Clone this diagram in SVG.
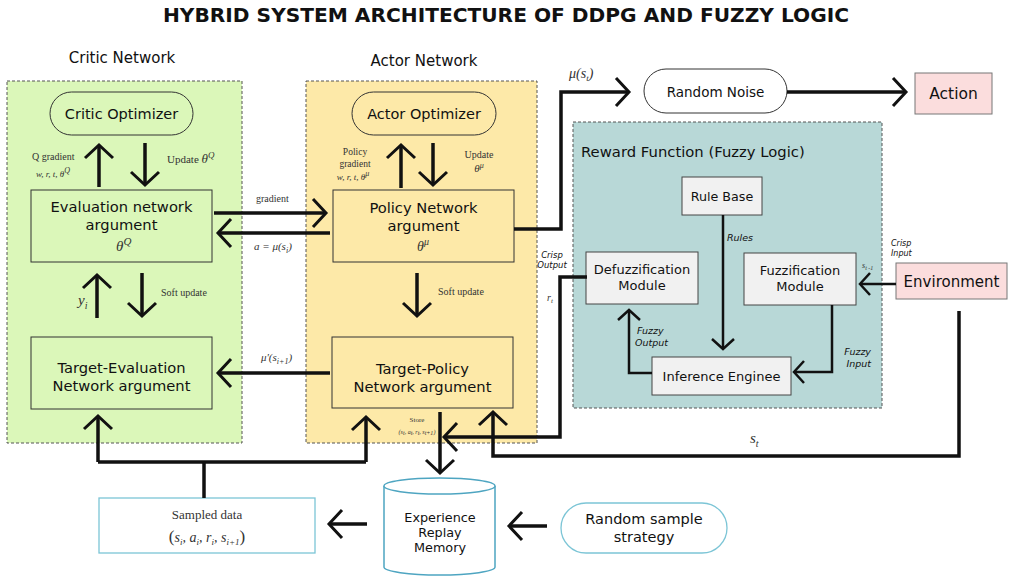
<svg xmlns="http://www.w3.org/2000/svg" width="1012" height="579" viewBox="0 0 1012 579">
<style>
.t{font-family:"DejaVu Sans","Open Sans",sans-serif;fill:#111;text-anchor:middle}
.m{font-family:"Liberation Serif",serif;fill:#333}
.mi{font-family:"Liberation Serif",serif;font-style:italic;fill:#333}
.it{font-family:"DejaVu Sans","Open Sans",sans-serif;font-style:italic;fill:#111}
.panel{stroke:#555;stroke-width:1;stroke-dasharray:3,2}
.box{stroke:#333;stroke-width:1}
.fz{fill:#f1f1f1;stroke:#444;stroke-width:1}
.pink{fill:#fbdddd;stroke:#777;stroke-width:1}
.blue{fill:#fff;stroke:#7cc5d6;stroke-width:1.3}
.c{fill:none;stroke:#111;stroke-width:3.5}
.cs{fill:none;stroke:#111;stroke-width:2.5}
</style>
<defs>
<marker id="ah" markerUnits="userSpaceOnUse" viewBox="-16 -16 20 32" markerWidth="20" markerHeight="32" refX="0" refY="0" orient="auto" overflow="visible"><path d="M-13,-14 L0,0 L-13,14" fill="none" stroke="#111" stroke-width="3"/></marker>
<marker id="as" markerUnits="userSpaceOnUse" viewBox="-12 -12 14 24" markerWidth="14" markerHeight="24" refX="0" refY="0" orient="auto" overflow="visible"><path d="M-10,-11 L0,0 L-10,11" fill="none" stroke="#111" stroke-width="2.5"/></marker>
</defs>
<rect width="1012" height="579" fill="#fff"/>
<text x="506" y="22" class="t" font-size="20" font-weight="bold" textLength="686" lengthAdjust="spacingAndGlyphs">HYBRID SYSTEM ARCHITECTURE OF DDPG AND FUZZY LOGIC</text>

<g id="critic-network">
<rect x="7" y="81" width="235" height="362" fill="#dbf7b9" class="panel"/>
<text x="122" y="63" class="t" font-size="15">Critic Network</text>
</g>
<g id="actor-network">
<rect x="306" y="81" width="231" height="362" fill="#fde9a8" class="panel"/>
<text x="424" y="66" class="t" font-size="15">Actor Network</text>
</g>
<g id="reward-function">
<rect x="573" y="122" width="309" height="286" fill="#b8d8d7" class="panel"/>
<text x="581" y="157" class="t" font-size="14.8" style="text-anchor:start">Reward Function (Fuzzy Logic)</text>
</g>

<g id="critic-optimizer">
<rect x="50" y="92" width="143" height="43" rx="21.5" fill="#dbf7b9" stroke="#333"/>
<text x="121.5" y="119" class="t" font-size="14.5">Critic Optimizer</text>
</g>
<g id="evaluation-network">
<rect x="31" y="190" width="181" height="72" fill="#dbf7b9" class="box"/>
<text x="121.5" y="212" class="t" font-size="14.7">Evaluation network</text>
<text x="121.5" y="229.5" class="t" font-size="14.7">argument</text>
<text x="116" y="251" class="mi" font-size="15">θ<tspan font-size="11" dy="-6">Q</tspan></text>
</g>
<g id="target-evaluation">
<rect x="31" y="337" width="181" height="72" fill="#dbf7b9" class="box"/>
<text x="121.5" y="373" class="t" font-size="14.7">Target-Evaluation</text>
<text x="121.5" y="390.5" class="t" font-size="14.7">Network argument</text>
</g>

<g id="actor-optimizer">
<rect x="352" y="92" width="144" height="43" rx="21.5" fill="#fde9a8" stroke="#333"/>
<text x="424" y="119" class="t" font-size="14.5">Actor Optimizer</text>
</g>
<g id="policy-network">
<rect x="333" y="190" width="181" height="72" fill="#fde9a8" class="box"/>
<text x="423.5" y="213" class="t" font-size="14.7">Policy Network</text>
<text x="423.5" y="230.5" class="t" font-size="14.7">argument</text>
<text x="417" y="251" class="mi" font-size="14">θ<tspan font-size="10" dy="-6">μ</tspan></text>
</g>
<g id="target-policy">
<rect x="332" y="337" width="181" height="71" fill="#fde9a8" class="box"/>
<text x="422.5" y="374" class="t" font-size="14.7">Target-Policy</text>
<text x="422.5" y="391.5" class="t" font-size="14.7">Network argument</text>
</g>

<g id="random-noise">
<rect x="644" y="69" width="143" height="44" rx="22" fill="#fff" stroke="#333"/>
<text x="715.5" y="96.5" class="t" font-size="13.5">Random Noise</text>
</g>
<g id="action">
<rect x="915" y="73" width="77" height="41" class="pink"/>
<text x="953.5" y="99" class="t" font-size="15.5">Action</text>
</g>
<g id="rule-base">
<rect x="682" y="177" width="80" height="38" class="fz"/>
<text x="722" y="200.5" class="t" font-size="12.7">Rule Base</text>
</g>
<g id="defuzzification">
<rect x="586" y="252" width="112" height="52" class="fz"/>
<text x="642" y="274" class="t" font-size="13">Defuzzification</text>
<text x="642" y="289.5" class="t" font-size="13">Module</text>
</g>
<g id="fuzzification">
<rect x="744" y="253" width="112" height="52" class="fz"/>
<text x="800" y="275" class="t" font-size="13">Fuzzification</text>
<text x="800" y="290.5" class="t" font-size="13">Module</text>
</g>
<g id="inference-engine">
<rect x="652" y="357" width="139" height="38" class="fz"/>
<text x="721.5" y="380.5" class="t" font-size="13">Inference Enginee</text>
</g>
<g id="environment">
<rect x="896" y="263" width="111" height="36" class="pink"/>
<text x="951.5" y="286.5" class="t" font-size="15">Environment</text>
</g>
<g id="sampled-data">
<rect x="99" y="498" width="216" height="55" class="blue"/>
<text x="207" y="519" class="m" font-size="13" text-anchor="middle">Sampled data</text>
<text x="207" y="542" class="mi" font-size="14" text-anchor="middle"><tspan font-style="normal" font-size="17">(</tspan>s<tspan font-size="9" dy="3">i</tspan><tspan dy="-3">, a</tspan><tspan font-size="9" dy="3">i</tspan><tspan dy="-3">, r</tspan><tspan font-size="9" dy="3">i</tspan><tspan dy="-3">, s</tspan><tspan font-size="9" dy="3">i+1</tspan><tspan dy="-3" font-style="normal" font-size="17">)</tspan></text>
</g>
<g id="experience-replay">
<path d="M384,486 V567 A55.5,8 0 0 0 495,567 V486" fill="#fff" stroke="#4ea5c1" stroke-width="1.5"/>
<ellipse cx="439.5" cy="486" rx="55.5" ry="8" fill="#fff" stroke="#4ea5c1" stroke-width="1.5"/>
<text x="440" y="522" class="t" font-size="12.8">Experience</text>
<text x="440" y="537" class="t" font-size="12.8">Replay</text>
<text x="440" y="552" class="t" font-size="12.8">Memory</text>
</g>
<g id="random-sample-strategy">
<rect x="561" y="503" width="166" height="50" rx="25" class="blue"/>
<text x="644" y="524" class="t" font-size="14.5">Random sample</text>
<text x="644" y="542" class="t" font-size="14.5">strategy</text>
</g>

<g id="connectors">
<path class="c" d="M99,187 V145" marker-end="url(#ah)"/>
<path class="c" d="M145,143 V185" marker-end="url(#ah)"/>
<path class="c" d="M97,318 V275" marker-end="url(#ah)"/>
<path class="c" d="M142,273 V316" marker-end="url(#ah)"/>
<path class="c" d="M214,213 H326" marker-end="url(#ah)"/>
<path class="c" d="M330,233 H218" marker-end="url(#ah)"/>
<path class="c" d="M330,373 H218" marker-end="url(#ah)"/>
<path class="c" d="M401,188 V145" marker-end="url(#ah)"/>
<path class="c" d="M433,143 V185" marker-end="url(#ah)"/>
<path class="c" d="M417,273 V316" marker-end="url(#ah)"/>
<path class="c" stroke-width="4" d="M514,229 H561 V92 H629" marker-end="url(#ah)"/>
<path class="c" stroke-width="4.5" d="M787,92 H906" marker-end="url(#ah)"/>
<path class="c" stroke-width="3" d="M587,277 H560 V437 H444" marker-end="url(#ah)"/>
<path class="c" d="M440,412 V473" marker-end="url(#ah)"/>
<path class="c" d="M959,311 V456 H493 V412" marker-end="url(#ah)"/>
<path class="c" d="M98,462 H366"/>
<path class="c" d="M98,462 V416" marker-end="url(#ah)"/>
<path class="c" d="M366,462 V417" marker-end="url(#ah)"/>
<path class="c" d="M204,462 V498"/>
<path class="c" d="M367,524 H329" marker-end="url(#ah)"/>
<path class="c" d="M547,526 H509" marker-end="url(#ah)"/>
<path class="cs" d="M723,215 V349" marker-end="url(#as)"/>
<path class="cs" d="M652,373 H629 V310" marker-end="url(#as)"/>
<path class="cs" d="M832,305 V372 H794" marker-end="url(#as)"/>
<path class="cs" d="M896,284 H860" marker-end="url(#as)"/>
</g>

<g id="labels">
<text x="32" y="160" class="m" font-size="10">Q gradient</text>
<text x="36" y="177" class="mi" font-size="9">w, r, t, θ<tspan font-size="8" dy="-4">Q</tspan></text>
<text x="167" y="163" class="m" font-size="11">Update <tspan font-style="italic" font-size="13">θ</tspan><tspan font-style="italic" font-size="9" dy="-5">Q</tspan></text>
<text x="78" y="305" class="mi" font-size="15">y<tspan font-size="10" dy="4">i</tspan></text>
<text x="161" y="296" class="m" font-size="10">Soft update</text>
<text x="256" y="202" class="m" font-size="10">gradient</text>
<text x="254" y="250" class="mi" font-size="11">a = μ(s<tspan font-size="8" dy="3">i</tspan><tspan dy="-3">)</tspan></text>
<text x="261" y="361" class="mi" font-size="11">μ'(s<tspan font-size="8" dy="3">i+1</tspan><tspan dy="-3">)</tspan></text>
<text x="355" y="155" class="m" font-size="9.5" text-anchor="middle">Policy</text>
<text x="355" y="167" class="m" font-size="9.5" text-anchor="middle">gradient</text>
<text x="353" y="180" class="mi" font-size="9" text-anchor="middle">w, r, t, θ<tspan font-size="8" dy="-4">μ</tspan></text>
<text x="479" y="158" class="m" font-size="10" text-anchor="middle">Update</text>
<text x="479" y="172" class="mi" font-size="11" text-anchor="middle">θ<tspan font-size="8" dy="-4">μ</tspan></text>
<text x="438" y="295" class="m" font-size="10">Soft update</text>
<text x="417" y="422" class="m" font-size="7" text-anchor="middle">Store</text>
<text x="417" y="434" class="mi" font-size="6" text-anchor="middle">(s<tspan dy="1">t</tspan><tspan dy="-1">, a</tspan><tspan dy="1">t</tspan><tspan dy="-1">, r</tspan><tspan dy="1">t</tspan><tspan dy="-1">, s</tspan><tspan dy="1">t+1</tspan><tspan dy="-1">)</tspan></text>
<text x="569" y="78" class="mi" font-size="14">μ(s<tspan font-size="9" dy="3">t</tspan><tspan dy="-3">)</tspan></text>
<text x="552" y="258" class="it" font-size="8.5" text-anchor="middle">Crisp</text>
<text x="552" y="268" class="it" font-size="8.5" text-anchor="middle">Output</text>
<text x="547" y="301" class="mi" font-size="10">r<tspan font-size="7" dy="2">t</tspan></text>
<text x="727" y="241" class="it" font-size="9.5">Rules</text>
<text x="637" y="334" class="it" font-size="9.5">Fuzzy</text>
<text x="635" y="346" class="it" font-size="9.5">Output</text>
<text x="871" y="355" class="it" font-size="9.5" text-anchor="end">Fuzzy</text>
<text x="871" y="367" class="it" font-size="9.5" text-anchor="end">Input</text>
<text x="891" y="246" class="it" font-size="8">Crisp</text>
<text x="891" y="256" class="it" font-size="8">Input</text>
<text x="862" y="268" class="mi" font-size="8">s<tspan font-size="6" dy="2">t -1</tspan></text>
<text x="750" y="443" class="mi" font-size="15">s<tspan font-size="10" dy="4">t</tspan></text>
</g>
</svg>
